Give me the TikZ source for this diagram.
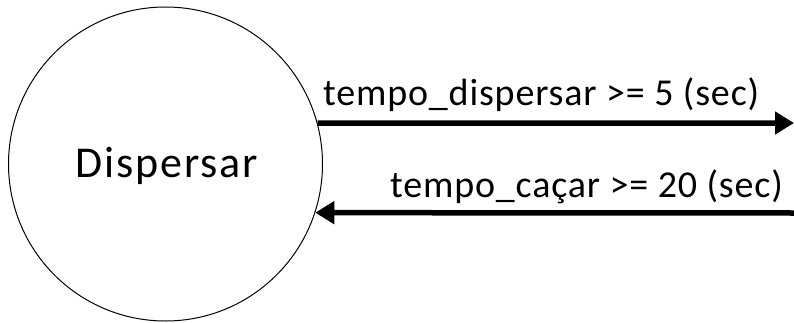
\documentclass[tikz,border=0pt]{standalone}
\usepackage{fontspec}
\setmainfont{Carlito}
\usetikzlibrary{arrows.meta}
\tikzset{
  statenode/.style={circle,draw,line width=1pt,minimum size=314pt,inner sep=0pt},
  statetext/.style={inner sep=0pt,font=\fontsize{44}{52}\selectfont\addfontfeatures{LetterSpace=4.3}},
  trans/.style={line width=5.5pt,-{Triangle[length=19pt,width=22pt]}},
  lbl/.style={font=\fontsize{38}{44}\selectfont\addfontfeatures{LetterSpace=2.2},inner sep=0pt}
}
\begin{document}
\begin{tikzpicture}[x=1pt,y=1pt]
\useasboundingbox (0,0) rectangle (794,322);
\node[statenode] (c) at (165.5,158) {};
\node[statetext,anchor=base] (t) at (167,145) {Dispersar};
\coordinate (r1) at (794,199);
\coordinate (r2) at (794,109);
\draw[trans] (c.15.1) -- (r1);
\draw[trans] (r2) -- (c.-18.2);
\node[lbl,anchor=base west] (l1) at (323,217) {tempo\_dispersar >= 5 (sec)};
\node[lbl,anchor=base west] (l2) at (390,125) {tempo\_caçar >= 20 (sec)};
\end{tikzpicture}
\end{document}
